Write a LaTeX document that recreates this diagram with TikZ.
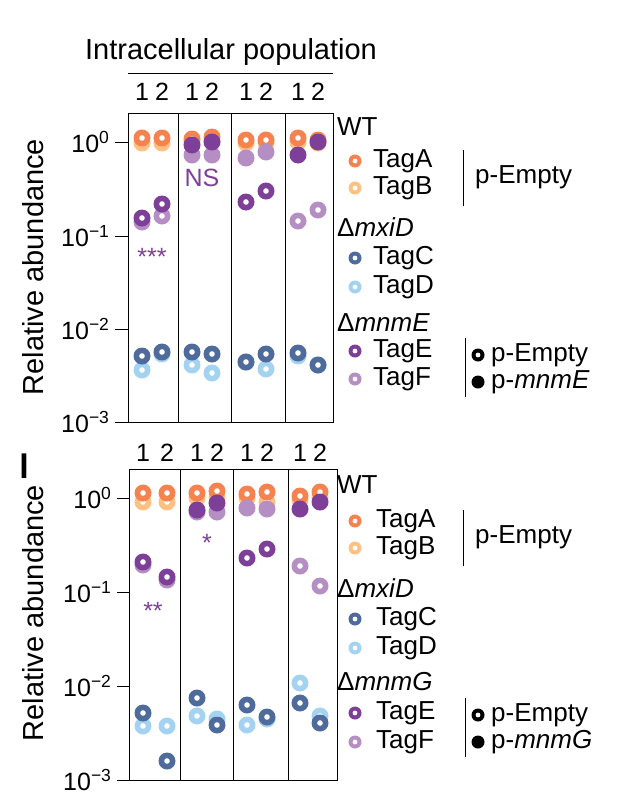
\documentclass[tikz,border=0pt]{standalone}
\usepackage{fontspec}
\setmainfont{Liberation Sans}
\definecolor{tagA}{HTML}{F6834F}
\definecolor{tagB}{HTML}{FDC184}
\definecolor{tagC}{HTML}{4E6B9B}
\definecolor{tagD}{HTML}{A3D3F0}
\definecolor{tagE}{HTML}{7E3F98}
\definecolor{tagF}{HTML}{B58FC4}
\tikzset{
  dot/.style={circle, inner sep=0pt, minimum size=17pt, fill=#1},
  ring/.style={dot=#1, path picture={\fill[white] (path picture bounding box.center) circle (2.8pt);}},
  smalldot/.style={circle, inner sep=0pt, minimum size=13pt, fill=#1},
  smallring/.style={smalldot=#1, path picture={\fill[white] (path picture bounding box.center) circle (2.4pt);}},
  lbl/.style={font=\fontsize{26}{28}\selectfont, anchor=west, inner sep=1pt},
  tick/.style={font=\fontsize{25}{28}\selectfont, anchor=east},
  num/.style={font=\fontsize{25}{28}\selectfont},
}
% one replicate: x, A, B, C, D, E, F, style of E, style of F
\newcommand{\repcol}[9]{
  \node[ring=tagB] at (#1,#3) {};
  \node[ring=tagA] at (#1,#2) {};
  \node[ring=tagD] at (#1,#5) {};
  \node[ring=tagC] at (#1,#4) {};
  \node[#9=tagF] at (#1,#7) {};
  \node[#8=tagE] at (#1,#6) {};
}
\begin{document}
\begin{tikzpicture}[x=1pt,y=-1pt]
\useasboundingbox (0,0) rectangle (616,806);

%% top panel
\node[font=\fontsize{29}{34}\selectfont] (title) at (231,52) {Intracellular population};
\draw (128,73) -- (333,73);
\foreach \xa/\xb in {142/162,192/212,246/266,298/318} {
  \node[num] at (\xa,92) {1};
  \node[num] at (\xb,92) {2};
}
\draw (128,113) rectangle (333,422);
\foreach \xv in {178,231,285} \draw (\xv,113) -- (\xv,422);
\foreach \yv/\ex in {142/0,236/−1,329/−2,422/−3} {
  \draw (115,\yv) -- (128,\yv);
  \node[tick] at (113,\yv) {10\textsuperscript{\ex}};
}
\node[rotate=90, font=\fontsize{29}{34}\selectfont] (ylabA) at (33,267) {Relative abundance};

\repcol{142}{138}{143}{356}{370}{218}{222}{ring}{ring}
\repcol{162}{138}{143}{352}{354}{204}{216}{ring}{ring}
\repcol{192}{139}{142}{352}{365}{145}{155}{dot}{dot}
\repcol{212}{137}{141}{354}{373}{142}{155}{dot}{dot}
\repcol{246}{140}{143}{362}{362}{202}{158}{ring}{dot}
\repcol{266}{140}{143}{354}{369}{191}{152}{ring}{dot}
\repcol{298}{138}{142}{353}{356}{155}{221}{dot}{ring}
\repcol{318}{140}{143}{365}{365}{142}{210}{dot}{ring}
\node[num, text=tagE] at (152,257) {***};
\node[num, text=tagE] at (202,178) {NS};

% legend
\node[lbl] at (336,127) {WT};
\node[smallring=tagA] at (355,161) {}; \node[lbl] at (372,161) {TagA};
\node[smallring=tagB] at (355,188) {}; \node[lbl] at (372,188) {TagB};
\node[lbl] at (336,227) {Δ\textit{mxiD}};
\node[smallring=tagC] at (355,258) {}; \node[lbl] at (372,258) {TagC};
\node[smallring=tagD] at (355,287) {}; \node[lbl] at (372,287) {TagD};
\node[lbl] at (336,323) {Δ\textit{mnmE}};
\node[smallring=tagE] at (355,351) {}; \node[lbl] at (372,351) {TagE};
\node[smallring=tagF] at (355,379) {}; \node[lbl] at (372,379) {TagF};
\draw (463,150) -- (463,206);
\node[lbl] at (474,177) {p-Empty};
\draw (465,338) -- (465,397);
\node[smallring=black] at (478,355) {}; \node[lbl] at (490,355) {p-Empty};
\node[smalldot=black] at (478,382) {}; \node[lbl] at (490,382) {p-\textit{mnmE}};

%% bottom panel
\node[font=\bfseries\fontsize{34}{38}\selectfont] (letter) at (24,466) {l};
\foreach \xa/\xb in {143/167,197/217,247/267,300/320} {
  \node[num] at (\xa,453) {1};
  \node[num] at (\xb,453) {2};
}
\draw (129,469) rectangle (337,780);
\foreach \xv in {180,233,288} \draw (\xv,469) -- (\xv,780);
\foreach \yv/\ex in {498/0,592/−1,686/−2,780/−3} {
  \draw (117,\yv) -- (129,\yv);
  \node[tick] at (115,\yv) {10\textsuperscript{\ex}};
}
\node[rotate=90, font=\fontsize{29}{34}\selectfont] (ylabB) at (33,613) {Relative abundance};

\repcol{143}{493}{502}{713}{726}{562}{565}{ring}{ring}
\repcol{167}{493}{502}{761}{726}{577}{580}{ring}{ring}
\repcol{197}{493}{498}{698}{716}{510}{512}{dot}{dot}
\repcol{217}{491}{497}{725}{719}{503}{512}{dot}{dot}
\repcol{247}{494}{498}{705}{725}{558}{508}{ring}{dot}
\repcol{267}{492}{502}{717}{719}{549}{509}{ring}{dot}
\repcol{300}{496}{500}{703}{683}{509}{566}{dot}{ring}
\repcol{320}{492}{498}{723}{716}{502}{586}{dot}{ring}
\node[num, text=tagE] at (153,611) {**};
\node[num, text=tagE] at (207,543) {*};

% legend
\node[lbl] at (336,485) {WT};
\node[smallring=tagA] at (355,521) {}; \node[lbl] at (375,521) {TagA};
\node[smallring=tagB] at (355,548) {}; \node[lbl] at (375,548) {TagB};
\node[lbl] at (336,588) {Δ\textit{mxiD}};
\node[smallring=tagC] at (355,619) {}; \node[lbl] at (375,619) {TagC};
\node[smallring=tagD] at (355,648) {}; \node[lbl] at (375,648) {TagD};
\node[lbl] at (336,682) {Δ\textit{mnmG}};
\node[smallring=tagE] at (355,713) {}; \node[lbl] at (375,713) {TagE};
\node[smallring=tagF] at (355,742) {}; \node[lbl] at (375,742) {TagF};
\draw (463,510) -- (463,566);
\node[lbl] at (474,537) {p-Empty};
\draw (465,698) -- (465,757);
\node[smallring=black] at (478,715) {}; \node[lbl] at (490,715) {p-Empty};
\node[smalldot=black] at (478,742) {}; \node[lbl] at (490,742) {p-\textit{mnmG}};
\end{tikzpicture}
\end{document}
